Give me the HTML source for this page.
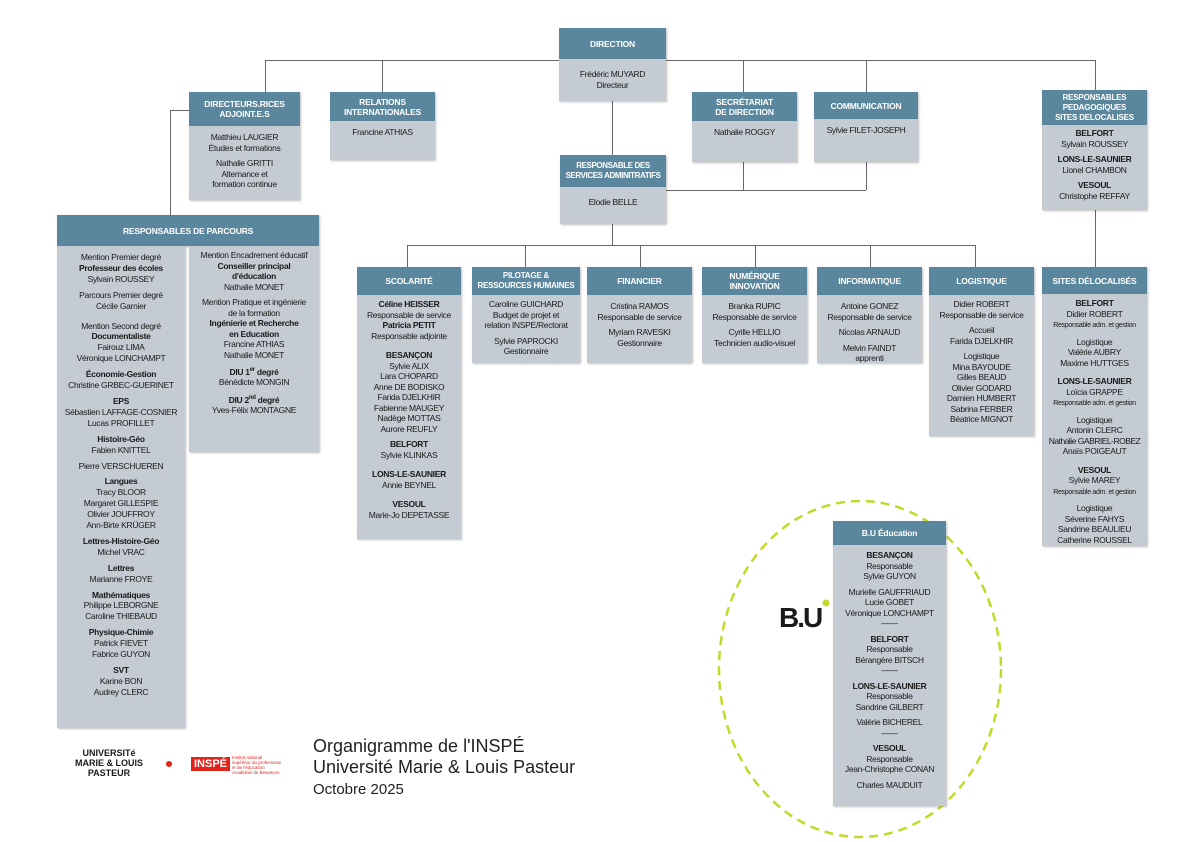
<!DOCTYPE html>
<html><head><meta charset="utf-8">
<style>
body{margin:0;background:#fff;}
#c{position:relative;width:1191px;height:842px;overflow:hidden;font-family:"Liberation Sans Narrow","Liberation Sans",sans-serif;color:#1a1a1a;}
.h{position:absolute;background:#5a879e;color:#fff;font-weight:bold;font-size:8.5px;letter-spacing:-0.2px;text-align:center;display:flex;align-items:center;justify-content:center;line-height:10px;box-shadow:1px 1px 2px rgba(0,0,0,.25);white-space:nowrap;}
.b{position:absolute;background:#c4cbd2;font-size:8.5px;letter-spacing:-0.3px;white-space:nowrap;text-align:center;line-height:10.5px;padding-top:6px;box-sizing:border-box;box-shadow:1px 1px 2px rgba(0,0,0,.25);}
.b p{margin:0 0 5px 0;}
.b b{font-weight:bold;}
.l{position:absolute;background:#666;}
.s{font-size:7px;}
</style></head><body><div id="c">
<!-- lines -->
<div class="l" style="left:265px;top:60px;width:830px;height:1px"></div>
<div class="l" style="left:265px;top:60px;width:1px;height:32px"></div>
<div class="l" style="left:382px;top:60px;width:1px;height:32px"></div>
<div class="l" style="left:743px;top:60px;width:1px;height:32px"></div>
<div class="l" style="left:866px;top:60px;width:1px;height:32px"></div>
<div class="l" style="left:1095px;top:60px;width:1px;height:30px"></div>
<div class="l" style="left:612px;top:101px;width:1px;height:54px"></div>
<div class="l" style="left:743px;top:162px;width:1px;height:28px"></div>
<div class="l" style="left:866px;top:162px;width:1px;height:28px"></div>
<div class="l" style="left:666px;top:190px;width:200px;height:1px"></div>
<div class="l" style="left:612px;top:224px;width:1px;height:21px"></div>
<div class="l" style="left:407px;top:245px;width:568px;height:1px"></div>
<div class="l" style="left:407px;top:245px;width:1px;height:22px"></div>
<div class="l" style="left:525px;top:245px;width:1px;height:22px"></div>
<div class="l" style="left:640px;top:245px;width:1px;height:22px"></div>
<div class="l" style="left:755px;top:245px;width:1px;height:22px"></div>
<div class="l" style="left:870px;top:245px;width:1px;height:22px"></div>
<div class="l" style="left:975px;top:245px;width:1px;height:22px"></div>
<div class="l" style="left:1095px;top:210px;width:1px;height:57px"></div>
<div class="l" style="left:170px;top:110px;width:19px;height:1px"></div>
<div class="l" style="left:170px;top:110px;width:1px;height:105px"></div>

<!-- Direction -->
<div class="h" style="left:559px;top:28px;width:107px;height:31px">DIRECTION</div>
<div class="b" style="left:559px;top:59px;width:107px;height:42px;padding-top:10px">Frédéric MUYARD<br>Directeur</div>

<div class="h" style="left:189px;top:92px;width:111px;height:34px">DIRECTEURS.RICES<br>ADJOINT.E.S</div>
<div class="b" style="left:189px;top:126px;width:111px;height:74px"><p>Matthieu LAUGIER<br>Études et formations</p><p>Nathalie GRITTI<br>Alternance et<br>formation continue</p></div>

<div class="h" style="left:330px;top:92px;width:105px;height:29px">RELATIONS<br>INTERNATIONALES</div>
<div class="b" style="left:330px;top:121px;width:105px;height:39px">Francine ATHIAS</div>

<div class="h" style="left:692px;top:92px;width:105px;height:29px">SECRÉTARIAT<br>DE DIRECTION</div>
<div class="b" style="left:692px;top:121px;width:105px;height:41px">Nathalie ROGGY</div>

<div class="h" style="left:814px;top:92px;width:104px;height:27px">COMMUNICATION</div>
<div class="b" style="left:814px;top:119px;width:104px;height:43px">Sylvie FILET-JOSEPH</div>

<div class="h" style="left:1042px;top:90px;width:105px;height:35px;font-size:8px;line-height:10px">RESPONSABLES<br>PEDAGOGIQUES<br>SITES DELOCALISES</div>
<div class="b" style="left:1042px;top:125px;width:105px;height:85px;padding-top:3px"><p><b>BELFORT</b><br>Sylvain ROUSSEY</p><p><b>LONS-LE-SAUNIER</b><br>Lionel CHAMBON</p><p><b>VESOUL</b><br>Christophe REFFAY</p></div>

<div class="h" style="left:560px;top:155px;width:106px;height:32px;font-size:8px;letter-spacing:-0.4px">RESPONSABLE DES<br>SERVICES ADMINITRATIFS</div>
<div class="b" style="left:560px;top:187px;width:106px;height:37px;padding-top:10px">Elodie BELLE</div>

<!-- Parcours -->
<div class="h" style="left:57px;top:215px;width:262px;height:31px">RESPONSABLES DE PARCOURS</div>
<div class="b" style="left:57px;top:246px;width:128px;height:482px;padding-top:6px;line-height:10.9px"><p>Mention Premier degré<br><b>Professeur des écoles</b><br>Sylvain ROUSSEY</p><p>Parcours Premier degré<br>Cécile Garnier</p><p style="margin-top:9px">Mention Second degré<br><b>Documentaliste</b><br>Fairouz LIMA<br>Véronique LONCHAMPT</p><p><b>Économie-Gestion</b><br>Christine GRBEC-GUERINET</p><p><b>EPS</b><br>Sébastien LAFFAGE-COSNIER<br>Lucas PROFILLET</p><p><b>Histoire-Géo</b><br>Fabien KNITTEL</p><p>Pierre VERSCHUEREN</p><p><b>Langues</b><br>Tracy BLOOR<br>Margaret GILLESPIE<br>Olivier JOUFFROY<br>Ann-Birte KRÜGER</p><p><b>Lettres-Histoire-Géo</b><br>Michel VRAC</p><p><b>Lettres</b><br>Marianne FROYE</p><p><b>Mathématiques</b><br>Philippe LEBORGNE<br>Caroline THIEBAUD</p><p><b>Physique-Chimie</b><br>Patrick FIEVET<br>Fabrice GUYON</p><p><b>SVT</b><br>Karine BON<br>Audrey CLERC</p></div>
<div class="b" style="left:189px;top:246px;width:130px;height:206px;padding-top:4px"><p>Mention Encadrement éducatif<br><b>Conseiller principal<br>d'éducation</b><br>Nathalie MONET</p><p>Mention Pratique et ingénierie<br>de la formation<br><b>Ingénierie et Recherche<br>en Education</b><br>Francine ATHIAS<br>Nathalie MONET</p><p><b>DIU 1<sup style="font-size:6px">er</sup> degré</b><br>Bénédicte MONGIN</p><p><b>DIU 2<sup style="font-size:6px">nd</sup> degré</b><br>Yves-Félix MONTAGNE</p></div>

<!-- services -->
<div class="h" style="left:357px;top:267px;width:104px;height:28px">SCOLARITÉ</div>
<div class="b" style="left:357px;top:295px;width:104px;height:244px;padding-top:4px"><p><b>Céline HEISSER</b><br>Responsable de service<br><b>Patricia PETIT</b><br>Responsable adjointe</p><p style="margin-top:9px"><b>BESANÇON</b><br>Sylvie ALIX<br>Lara CHOPARD<br>Anne DE BODISKO<br>Farida DJELKHIR<br>Fabienne MAUGEY<br>Nadège MOTTAS<br>Aurore REUFLY</p><p><b>BELFORT</b><br>Sylvie KLINKAS</p><p style="margin-top:9px"><b>LONS-LE-SAUNIER</b><br>Annie BEYNEL</p><p style="margin-top:9px"><b>VESOUL</b><br>Marie-Jo DEPETASSE</p></div>

<div class="h" style="left:472px;top:267px;width:108px;height:28px;font-size:8px">PILOTAGE &amp;<br>RESSOURCES HUMAINES</div>
<div class="b" style="left:472px;top:295px;width:108px;height:68px;padding-top:4px"><p>Caroline GUICHARD<br>Budget de projet et<br>relation INSPE/Rectorat</p><p>Sylvie PAPROCKI<br>Gestionnaire</p></div>

<div class="h" style="left:587px;top:267px;width:105px;height:28px">FINANCIER</div>
<div class="b" style="left:587px;top:295px;width:105px;height:68px"><p>Cristina RAMOS<br>Responsable de service</p><p>Myriam RAVESKI<br>Gestionnaire</p></div>

<div class="h" style="left:702px;top:267px;width:105px;height:28px">NUMÉRIQUE<br>INNOVATION</div>
<div class="b" style="left:702px;top:295px;width:105px;height:68px"><p>Branka RUPIC<br>Responsable de service</p><p>Cyrille HELLIO<br>Technicien audio-visuel</p></div>

<div class="h" style="left:817px;top:267px;width:105px;height:28px">INFORMATIQUE</div>
<div class="b" style="left:817px;top:295px;width:105px;height:68px"><p>Antoine GONEZ<br>Responsable de service</p><p>Nicolas ARNAUD</p><p>Melvin FAINDT<br>apprenti</p></div>

<div class="h" style="left:929px;top:267px;width:105px;height:28px">LOGISTIQUE</div>
<div class="b" style="left:929px;top:295px;width:105px;height:141px;padding-top:4px"><p>Didier ROBERT<br>Responsable de service</p><p>Accueil<br>Farida DJELKHIR</p><p>Logistique<br>Mina BAYOUDE<br>Gilles BEAUD<br>Olivier GODARD<br>Damien HUMBERT<br>Sabrina FERBER<br>Béatrice MIGNOT</p></div>

<div class="h" style="left:1042px;top:267px;width:105px;height:27px">SITES DÉLOCALISÉS</div>
<div class="b" style="left:1042px;top:294px;width:105px;height:252px;padding-top:4px"><p><b>BELFORT</b><br>Didier ROBERT<br><span class="s">Responsable adm. et gestion</span></p><p>Logistique<br>Valérie AUBRY<br>Maxime HUTTGES</p><p style="margin-top:8px"><b>LONS-LE-SAUNIER</b><br>Loïcia GRAPPE<br><span class="s">Responsable adm. et gestion</span></p><p>Logistique<br>Antonin CLERC<br><span style="letter-spacing:-0.5px">Nathalie GABRIEL-ROBEZ</span><br>Anaïs POIGEAUT</p><p style="margin-top:8px"><b>VESOUL</b><br>Sylvie MAREY<br><span class="s">Responsable adm. et gestion</span></p><p>Logistique<br>Séverine FAHYS<br>Sandrine BEAULIEU<br>Catherine ROUSSEL</p></div>

<!-- BU -->
<svg style="position:absolute;left:0;top:0" width="1191" height="842"><ellipse cx="860" cy="669" rx="141" ry="168" fill="none" stroke="#c3d92a" stroke-width="2.5" stroke-dasharray="9,6"/><circle cx="826" cy="603" r="3.5" fill="#c3d92a"/></svg>
<div style="position:absolute;left:779px;top:602px;font-size:28px;font-weight:bold;font-family:'Liberation Sans',sans-serif;letter-spacing:-2px">B.U</div>
<div class="h" style="left:833px;top:521px;width:113px;height:24px">B.U Éducation</div>
<div class="b" style="left:833px;top:545px;width:113px;height:261px;padding-top:5px"><p><b>BESANÇON</b><br>Responsable<br>Sylvie GUYON</p><p>Murielle GAUFFRIAUD<br>Lucie GOBET<br>Véronique LONCHAMPT<br>——</p><p><b>BELFORT</b><br>Responsable<br>Bérangère BITSCH<br>——</p><p><b>LONS-LE-SAUNIER</b><br>Responsable<br>Sandrine GILBERT</p><p>Valérie BICHEREL<br>——</p><p><b>VESOUL</b><br>Responsable<br>Jean-Christophe CONAN</p><p>Charles MAUDUIT</p></div>

<!-- footer -->
<div style="position:absolute;left:75px;top:748px;font-size:9px;font-weight:bold;line-height:10px;text-align:center;font-family:'Liberation Sans',sans-serif">UNIVERSITé<br>MARIE &amp; LOUIS<br>PASTEUR</div>
<div style="position:absolute;left:166px;top:761px;width:6px;height:6px;border-radius:50%;background:#e2231a"></div>
<div style="position:absolute;left:191px;top:757px;background:#e2231a;color:#fff;font-weight:bold;font-size:11px;padding:1px 3px;font-family:'Liberation Sans',sans-serif">INSPÉ</div>
<div style="position:absolute;left:232px;top:755px;font-size:4.5px;color:#e2231a;line-height:5px">Institut national<br>supérieur du professorat<br>et de l'éducation<br>Académie de Besançon</div>
<div style="position:absolute;left:313px;top:736px;font-size:18px;line-height:21px;color:#222">Organigramme de l'INSPÉ<br>Université Marie &amp; Louis Pasteur<br><span style="font-size:15px">Octobre 2025</span></div>
</div></body></html>
